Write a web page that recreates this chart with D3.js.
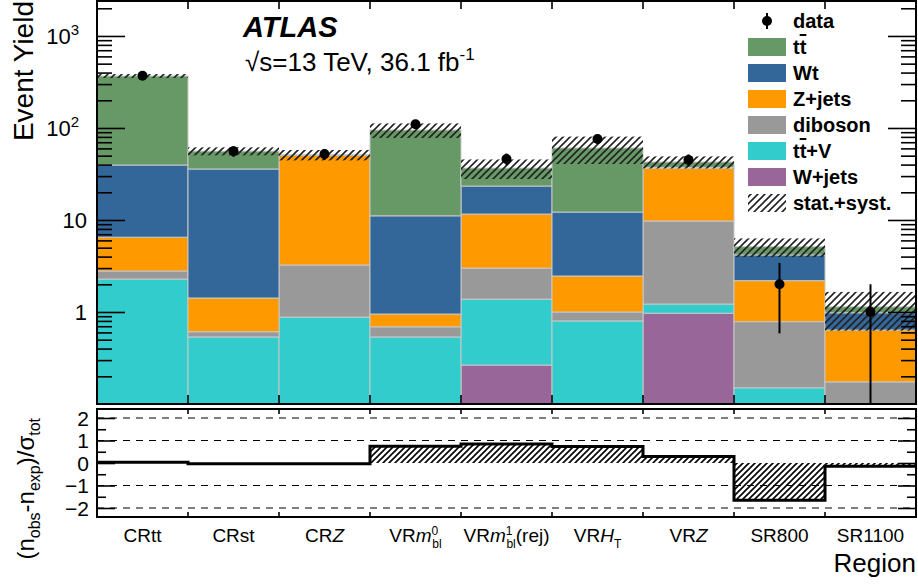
<!DOCTYPE html>
<html>
<head>
<meta charset="utf-8">
<script src="https://cdn.jsdelivr.net/npm/d3@7"></script>
<style>
  body { margin: 0; background: #fff; }
  text { font-family: "Liberation Sans", Arial, Helvetica, sans-serif; }
</style>
</head>
<body>
<svg id="chart" width="918" height="585"></svg>
<script>
// regions (x categories)
const regions = ["CRtt", "CRst", "CRZ", "VRm0bl", "VRm1bl(rej)", "VRHT", "VRZ", "SR800", "SR1100"];

// background yields per region (stack order bottom -> top)
const wjets   = [0, 0, 0, 0, 0.265, 0, 0.97, 0, 0];
const ttv     = [2.28, 0.535, 0.88, 0.535, 1.115, 0.8, 0.25, 0.15, 0];
const diboson = [0.51, 0.075, 2.36, 0.155, 1.62, 0.2, 8.53, 0.635, 0.174];
const zjets   = [3.71, 0.81, 47.3, 0.26, 8.6, 1.46, 26.75, 1.405, 0.463];
const wt      = [33.1, 34.4, 0.2, 10.15, 11.8, 9.74, 0.8, 1.98, 0.343];
const ttbar   = [327.4, 20.2, 0.3, 83.9, 13.3, 48.4, 5.4, 0.96, 0.16];

// relative total uncertainty (stat.+syst.)
const relUnc = [0.05, 0.10, 0.13, 0.18, 0.24, 0.33, 0.15, 0.23, 0.45];

// observed data
const observed = [370, 56, 52, 110, 46, 76, 45, 2, 1];

// (n_obs - n_exp)/sigma_tot
const pulls = [0.03, -0.03, -0.03, 0.75, 0.85, 0.73, 0.29, -1.65, -0.14];

const samples = [
  { key: "wjets",   name: "W+jets",  values: wjets,   color: "#996699" },
  { key: "ttv",     name: "tt+V",    values: ttv,     color: "#33cccc" },
  { key: "diboson", name: "diboson", values: diboson, color: "#999999" },
  { key: "zjets",   name: "Z+jets",  values: zjets,   color: "#ff9900" },
  { key: "wt",      name: "Wt",      values: wt,      color: "#336699" },
  { key: "ttbar",   name: "tt",      values: ttbar,   color: "#669966" }
];

const svg = d3.select("#chart");
const L = 97, R = 916;
const top1 = 0, bot1 = 404;
const top2 = 409, bot2 = 517;

const x = d3.scaleBand().domain(regions).range([L, R]).paddingInner(0).paddingOuter(0);
const y = d3.scaleLog().domain([0.1, 2460]).range([bot1, top1]).clamp(true);
const yp = d3.scaleLinear().domain([-2.4, 2.4]).range([bot2, top2]);

// hatch patterns
const defs = svg.append("defs");
function hatch(id, size, w, color) {
  const p = defs.append("pattern").attr("id", id).attr("patternUnits", "userSpaceOnUse")
    .attr("width", size).attr("height", size);
  p.append("path").attr("d", `M0,${size} L${size},0 M${-size/2},${size/2} L${size/2},${-size/2} M${size/2},${size*1.5} L${size*1.5},${size/2}`)
    .attr("stroke", color).attr("stroke-width", w);
}
hatch("hatchTop", 7, 1.6, "#222");
hatch("hatchBot", 6, 1.6, "#000");

// stacked bars
const table = regions.map((r, i) => {
  const row = { region: r };
  samples.forEach(s => row[s.key] = s.values[i]);
  return row;
});
const stack = d3.stack().keys(samples.map(s => s.key));
const series = stack(table);

const gStack = svg.append("g");
series.forEach((ser, si) => {
  gStack.selectAll(null).data(ser).enter().append("rect")
    .attr("x", d => x(d.data.region))
    .attr("width", x.bandwidth())
    .attr("y", d => y(Math.max(d[1], 0.1)))
    .attr("height", d => y(Math.max(d[0], 0.1)) - y(Math.max(d[1], 0.1)))
    .attr("fill", samples[si].color)
    .attr("stroke", d => (d[1] - d[0]) > 0 ? "#c8c8c8" : "none")
    .attr("stroke-width", 1);
});

// uncertainty band
const totals = regions.map((r, i) => d3.sum(samples, s => s.values[i]));
svg.append("g").selectAll("rect").data(regions).enter().append("rect")
  .attr("x", d => x(d))
  .attr("width", x.bandwidth())
  .attr("y", (d, i) => y(totals[i] * (1 + relUnc[i])))
  .attr("height", (d, i) => y(totals[i] * (1 - relUnc[i])) - y(totals[i] * (1 + relUnc[i])))
  .attr("fill", "url(#hatchTop)");

// data points with sqrt(N) errors
const gData = svg.append("g");
regions.forEach((r, i) => {
  const n = observed[i], e = Math.sqrt(n);
  const cx = x(r) + x.bandwidth() / 2;
  gData.append("line").attr("x1", cx).attr("x2", cx)
    .attr("y1", y(n + e)).attr("y2", y(Math.max(n - e, 0.1)))
    .attr("stroke", "#000").attr("stroke-width", 2);
  gData.append("circle").attr("cx", cx).attr("cy", y(n)).attr("r", 5).attr("fill", "#000");
});

// upper axes
const majors = [1, 10, 100, 1000];
const minors = [];
[0.1, 1, 10, 100, 1000].forEach(b => { for (let k = 2; k <= 9; k++) if (b * k < 2460) minors.push(b * k); });

function logTicks(g, side) {
  const px = side === "left" ? L : R;
  const mk = () => side === "left" ? d3.axisRight(y) : d3.axisLeft(y);
  g.append("g").attr("transform", `translate(${px},0)`)
    .call(mk().tickValues(majors).tickSize(28).tickFormat(""))
    .call(s => s.select(".domain").remove());
  g.append("g").attr("transform", `translate(${px},0)`)
    .call(mk().tickValues(minors).tickSize(15).tickFormat(""))
    .call(s => s.select(".domain").remove());
}
const gAx = svg.append("g");
logTicks(gAx, "left");
logTicks(gAx, "right");
gAx.selectAll("line").attr("stroke", "#000").attr("stroke-width", 1.6);

// y labels
const labY = svg.append("g").attr("font-size", 22).attr("text-anchor", "end");
[[1, "1", null], [10, "10", null], [100, "10", "2"], [1000, "10", "3"]].forEach(([v, b, sup]) => {
  const t = labY.append("text").attr("x", sup ? 79 : 87).attr("y", y(v) + 8);
  t.append("tspan").text(b);
  if (sup) t.append("tspan").attr("dy", -9).attr("font-size", 15).text(sup);
});

// x bin ticks on upper panel
const gX1 = svg.append("g");
gX1.append("g").attr("transform", `translate(0,${top1})`)
  .call(d3.axisBottom(x).tickSize(9).tickFormat("")).call(s => s.select(".domain").remove());
gX1.append("g").attr("transform", `translate(0,${bot1})`)
  .call(d3.axisTop(x).tickSize(9).tickFormat("")).call(s => s.select(".domain").remove());
gX1.selectAll(".tick").attr("transform", function() {
  const m = /translate\(([-\d.]+)/.exec(d3.select(this).attr("transform"));
  return `translate(${+m[1] - x.bandwidth() / 2},0)`;
});
gX1.selectAll("line").attr("stroke", "#000").attr("stroke-width", 1.6);

// frame upper
svg.append("rect").attr("x", L).attr("y", top1 + 1).attr("width", R - L).attr("height", bot1 - top1 - 1)
  .attr("fill", "none").attr("stroke", "#000").attr("stroke-width", 2);

// ---------- lower panel ----------
const gLow = svg.append("g");
[-2, -1, 1, 2].forEach(v => {
  gLow.append("line").attr("x1", L).attr("x2", R).attr("y1", yp(v)).attr("y2", yp(v))
    .attr("stroke", "#000").attr("stroke-width", 1.2).attr("stroke-dasharray", "7,6");
});
gLow.selectAll("rect.pull").data(regions).enter().append("rect")
  .attr("class", "pull")
  .attr("x", d => x(d))
  .attr("width", x.bandwidth())
  .attr("y", (d, i) => yp(Math.max(pulls[i], 0)))
  .attr("height", (d, i) => Math.abs(yp(pulls[i]) - yp(0)))
  .attr("fill", "url(#hatchBot)");
const stepPts = regions.map((r, i) => [x(r), pulls[i]]).concat([[R, pulls[pulls.length - 1]]]);
gLow.append("path")
  .attr("d", d3.line().x(d => d[0]).y(d => yp(d[1])).curve(d3.curveStepAfter)(stepPts))
  .attr("fill", "none").attr("stroke", "#000").attr("stroke-width", 3);

const pMaj = [-2, -1, 0, 1, 2], pMin = [-1.5, -0.5, 0.5, 1.5];
[["left", L], ["right", R]].forEach(([side, px]) => {
  const mk = () => side === "left" ? d3.axisRight(yp) : d3.axisLeft(yp);
  gLow.append("g").attr("transform", `translate(${px},0)`)
    .call(mk().tickValues(pMaj).tickSize(18).tickFormat("")).call(s => s.select(".domain").remove());
  gLow.append("g").attr("transform", `translate(${px},0)`)
    .call(mk().tickValues(pMin).tickSize(9).tickFormat("")).call(s => s.select(".domain").remove());
});
const gX2 = gLow.append("g");
gX2.append("g").attr("transform", `translate(0,${top2})`)
  .call(d3.axisBottom(x).tickSize(5).tickFormat("")).call(s => s.select(".domain").remove());
gX2.append("g").attr("transform", `translate(0,${bot2})`)
  .call(d3.axisTop(x).tickSize(5).tickFormat("")).call(s => s.select(".domain").remove());
gX2.selectAll(".tick").attr("transform", function() {
  const m = /translate\(([-\d.]+)/.exec(d3.select(this).attr("transform"));
  return `translate(${+m[1] - x.bandwidth() / 2},0)`;
});
gLow.selectAll(".tick line").attr("stroke", "#000").attr("stroke-width", 1.6);

svg.append("rect").attr("x", L).attr("y", top2).attr("width", R - L).attr("height", bot2 - top2)
  .attr("fill", "none").attr("stroke", "#000").attr("stroke-width", 2);

const labP = svg.append("g").attr("font-size", 21).attr("text-anchor", "end");
pMaj.forEach(v => {
  labP.append("text").attr("x", 89).attr("y", yp(v) + 7.5).text(v < 0 ? "\u2212" + Math.abs(v) : v);
});

// region labels
const gReg = svg.append("g").attr("font-size", 19).attr("text-anchor", "middle");
function regLabel(t, r) {
  const fs = 12;
  const supsub = (sup, sub) => {
    t.append("tspan").attr("dy", -7).attr("font-size", fs).text(sup);
    t.append("tspan").attr("dx", -6).attr("dy", 13).attr("font-size", fs).text(sub);
  };
  if (r === "CRZ") { t.append("tspan").text("CR"); t.append("tspan").attr("font-style", "italic").text("Z"); }
  else if (r === "VRZ") { t.append("tspan").text("VR"); t.append("tspan").attr("font-style", "italic").text("Z"); }
  else if (r === "VRm0bl") { t.append("tspan").text("VR"); t.append("tspan").attr("font-style", "italic").text("m"); supsub("0", "bl"); }
  else if (r === "VRm1bl(rej)") {
    t.append("tspan").text("VR"); t.append("tspan").attr("font-style", "italic").text("m"); supsub("1", "bl");
    t.append("tspan").attr("dy", -6).text("(rej)");
  }
  else if (r === "VRHT") {
    t.append("tspan").text("VR"); t.append("tspan").attr("font-style", "italic").text("H");
    t.append("tspan").attr("dy", 6).attr("font-size", fs).text("T");
  }
  else t.text(r);
}
regions.forEach(r => {
  const t = gReg.append("text").attr("x", x(r) + x.bandwidth() / 2).attr("y", 542);
  regLabel(t, r);
});

// axis titles
svg.append("text").attr("transform", "translate(33,1) rotate(-90)").attr("text-anchor", "end")
  .attr("font-size", 28).text("Event Yield");
svg.append("text").attr("x", R).attr("y", 572).attr("text-anchor", "end").attr("font-size", 26).text("Region");
const pt = svg.append("text").attr("transform", "translate(34,418) rotate(-90)").attr("text-anchor", "end")
  .attr("font-size", 24);
pt.append("tspan").text("(n");
pt.append("tspan").attr("font-size", 16).attr("dy", 6).text("obs");
pt.append("tspan").attr("dy", -6).text("-n");
pt.append("tspan").attr("font-size", 16).attr("dy", 6).text("exp");
pt.append("tspan").attr("dy", -6).text(")/\u03c3");
pt.append("tspan").attr("font-size", 16).attr("dy", 6).text("tot");

// ATLAS label
svg.append("text").attr("x", 243).attr("y", 37).attr("font-size", 29).attr("font-weight", "bold")
  .attr("font-style", "italic").text("ATLAS");
const lumi = svg.append("text").attr("x", 245).attr("y", 71).attr("font-size", 26);
lumi.append("tspan").text("\u221As=13 TeV, 36.1 fb");
lumi.append("tspan").attr("dy", -11).attr("font-size", 17).text("-1");

// legend
const leg = svg.append("g").attr("font-size", 20).attr("font-weight", "bold");
const legRows = [{ name: "data", type: "data" }]
  .concat(samples.slice().reverse().map(s => ({ name: s.name, type: "box", color: s.color })))
  .concat([{ name: "stat.+syst.", type: "hatch" }]);
legRows.forEach((d, i) => {
  const cy = 21 + i * 26;
  if (d.type === "data") {
    leg.append("line").attr("x1", 767).attr("x2", 767).attr("y1", cy - 8).attr("y2", cy + 8)
      .attr("stroke", "#000").attr("stroke-width", 2);
    leg.append("circle").attr("cx", 767).attr("cy", cy).attr("r", 5);
  } else {
    leg.append("rect").attr("x", 748).attr("y", cy - 9).attr("width", 38).attr("height", 18)
      .attr("fill", d.type === "hatch" ? "url(#hatchTop)" : d.color);
  }
  const t = leg.append("text").attr("x", 793).attr("y", cy + 7);
  if (d.name === "tt" || d.name === "tt+V") {
    t.append("tspan").text("t");
    t.append("tspan").style("text-decoration", "overline").text("t");
    if (d.name === "tt+V") t.append("tspan").text("+V");
  } else t.text(d.name);
});
</script>
</body>
</html>
